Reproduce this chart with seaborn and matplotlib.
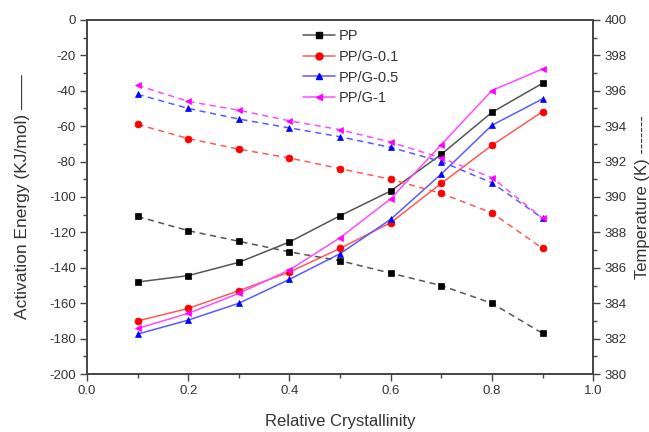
import matplotlib
matplotlib.use("Agg")
import matplotlib.pyplot as plt
import seaborn as sns
import pandas as pd
from matplotlib.ticker import MultipleLocator
from matplotlib.lines import Line2D

sns.set_style("white")
plt.rcParams['font.family'] = ['Liberation Sans', 'DejaVu Sans']
plt.rcParams['axes.unicode_minus'] = False

crystallinity = [0.1, 0.2, 0.3, 0.4, 0.5, 0.6, 0.7, 0.8, 0.9]
series_names = ["PP", "PP/G-0.1", "PP/G-0.5", "PP/G-1"]

energy_pp = [-148, -144.4, -136.9, -125.4, -110.6, -96.6, -75.9, -52.2, -35.8]
energy_g01 = [-170, -162.9, -152.9, -142.4, -129, -114.5, -92.3, -70.8, -51.8]
energy_g05 = [-177.4, -169.5, -160, -146.5, -132, -112.6, -87, -59.5, -44.6]
energy_g1 = [-174.2, -165.7, -154.4, -141.2, -123, -101, -70.4, -39.9, -27.7]

temp_pp = [388.9, 388.1, 387.5, 386.9, 386.4, 385.7, 385.0, 384.0, 382.3]
temp_g01 = [394.1, 393.3, 392.7, 392.2, 391.6, 391.0, 390.2, 389.1, 387.1]
temp_g05 = [395.8, 395.0, 394.4, 393.9, 393.4, 392.8, 392.0, 390.8, 388.8]
temp_g1 = [396.3, 395.4, 394.9, 394.3, 393.8, 393.1, 392.2, 391.1, 388.8]

energies = [energy_pp, energy_g01, energy_g05, energy_g1]
temps = [temp_pp, temp_g01, temp_g05, temp_g1]

marker_colors = ["#000000", "#ff0000", "#0000ff", "#ff00ff"]
line_colors = ["#555555", "#ff5a5a", "#5a5aff", "#ff4cff"]
markers = ["s", "o", "^", "<"]

fig = plt.figure(figsize=(6.49, 4.32), dpi=100)
ax1 = fig.add_axes([0.134, 0.134, 0.780, 0.820])
ax2 = ax1.twinx()

ms = 5.0
for name, e, mc, lc, m in zip(series_names, energies, marker_colors, line_colors, markers):
    df = pd.DataFrame({"x": crystallinity, "y": e})
    sns.lineplot(data=df, x="x", y="y", ax=ax1, color=lc, lw=1.1,
                 marker=m, markersize=ms, markerfacecolor=mc, markeredgecolor=mc,
                 markeredgewidth=0.5, legend=False)

for name, t, mc, lc, m in zip(series_names, temps, marker_colors, line_colors, markers):
    df = pd.DataFrame({"x": crystallinity, "y": t})
    sns.lineplot(data=df, x="x", y="y", ax=ax2, color=lc, lw=1.1, linestyle=(0, (4, 3)),
                 marker=m, markersize=ms, markerfacecolor=mc, markeredgecolor=mc,
                 markeredgewidth=0.5, legend=False)

ax1.set_xlim(0, 1.0)
ax1.set_ylim(-200, 0)
ax2.set_ylim(380, 400)

ax1.xaxis.set_minor_locator(MultipleLocator(0.1))
ax1.yaxis.set_major_locator(MultipleLocator(20))
ax1.yaxis.set_minor_locator(MultipleLocator(10))
ax2.yaxis.set_major_locator(MultipleLocator(2))
ax2.yaxis.set_minor_locator(MultipleLocator(1))

ax1.set_xticks([0.0, 0.2, 0.4, 0.6, 0.8, 1.0])
ax1.set_xticklabels(["0.0", "0.2", "0.4", "0.6", "0.8", "1.0"])

for ax in (ax1, ax2):
    for sp in ax.spines.values():
        sp.set_color("#444444")
        sp.set_linewidth(1.2)

tc = "#333333"
ax1.tick_params(axis="both", which="major", direction="out", length=5, width=1, colors="#444444",
                labelsize=9.5, labelcolor=tc, left=True, bottom=True, pad=3)
ax1.tick_params(axis="both", which="minor", direction="out", length=3, width=1, colors="#444444",
                left=True, bottom=True)
ax2.tick_params(axis="y", which="major", direction="out", length=5, width=1, colors="#444444",
                labelsize=9.5, labelcolor=tc, right=True, pad=3)
ax2.tick_params(axis="y", which="minor", direction="out", length=3, width=1, colors="#444444", right=True)

ax1.set_xlabel("Relative Crystallinity", fontsize=12, color=tc, labelpad=12)
ax1.set_ylabel("Activation Energy (KJ/mol) \u2014\u2014", fontsize=12.5, color=tc, labelpad=14)
ax2.set_ylabel("Temperature (K) -------", fontsize=12, color=tc, labelpad=6, rotation=90)
ax1.grid(False)
ax2.grid(False)

handles = [Line2D([0], [0], color=lc, lw=1.1, marker=m, markersize=ms,
                  markerfacecolor=mc, markeredgecolor=mc)
           for mc, lc, m in zip(marker_colors, line_colors, markers)]
ax2.legend(handles, series_names, loc="upper left", bbox_to_anchor=(0.40, 1.01), frameon=False,
           fontsize=10.5, handlelength=2.2, handletextpad=0.3, labelspacing=0.45,
           labelcolor=tc)

fig.savefig("out.png", dpi=100)
